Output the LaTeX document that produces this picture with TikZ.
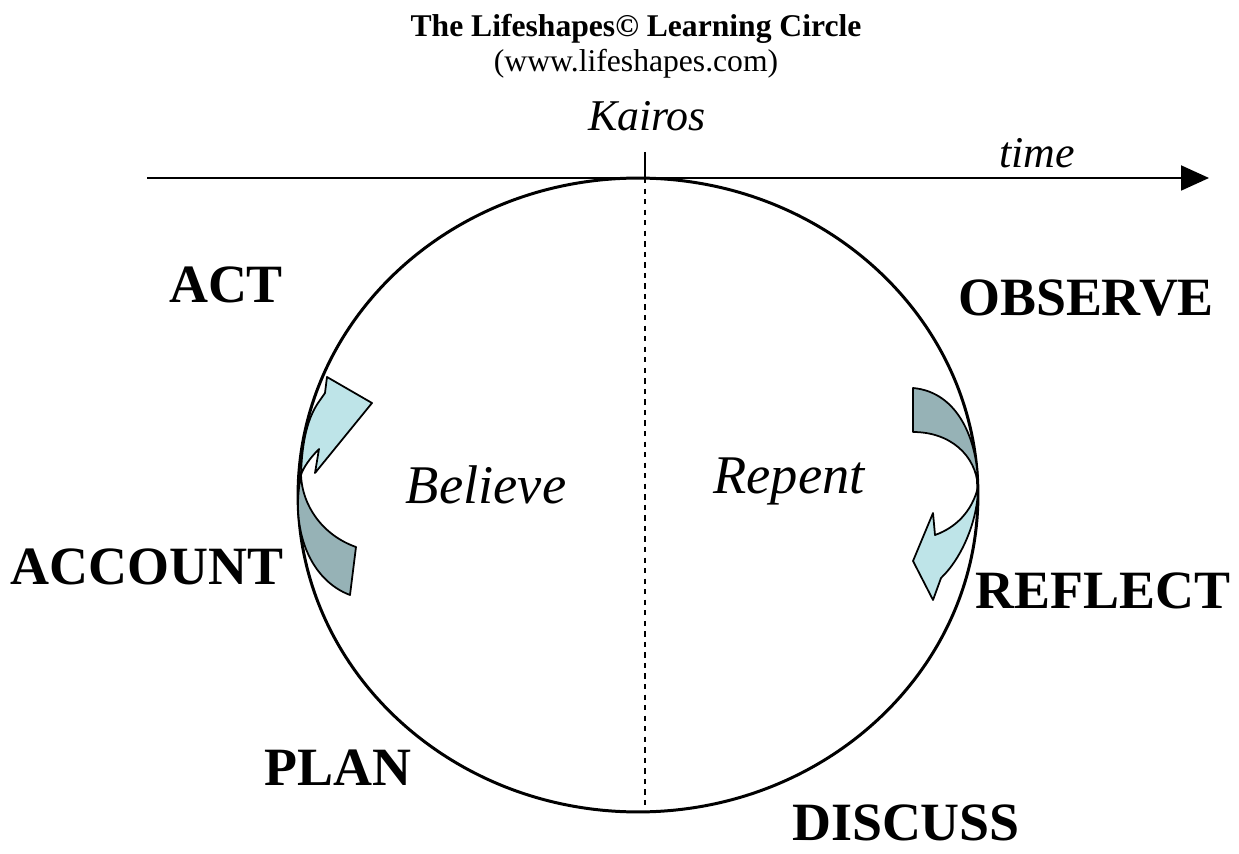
\documentclass[tikz,border=0pt]{standalone}
\usepackage{fontspec}
\setmainfont{Liberation Serif}
\usetikzlibrary{arrows.meta}
\definecolor{paleblue}{RGB}{190,228,232}
\definecolor{greyblue}{RGB}{150,178,182}

\begin{document}
\begin{tikzpicture}[x=0.02cm, y=-0.02cm,
  stage/.style={font=\fontsize{30.7}{32}\selectfont\bfseries, anchor=base, inner sep=0pt},
  word/.style={font=\fontsize{31}{32}\selectfont\itshape, anchor=base, inner sep=0pt},
  axislabel/.style={font=\fontsize{25}{26}\selectfont\itshape, anchor=base, inner sep=0pt},
  piece/.style={draw=black, line width=1pt, line join=round}]
\useasboundingbox (0,0) rectangle (1239,854);

\node (title) [anchor=base, inner sep=0pt, font=\fontsize{18}{20}\selectfont\bfseries] at (636,37) {The Lifeshapes© Learning Circle};
\node (web) [anchor=base, inner sep=0pt, font=\fontsize{18}{20}\selectfont] at (636,72) {(www.lifeshapes.com)};
\node (kairos) [axislabel] at (647,131) {Kairos};
\node (time) [axislabel] at (1037,168) {time};

\node (act) [stage] at (226,303) {ACT};
\node (observe) [stage] at (1086,316) {OBSERVE};
\node (account) [stage] at (147,584) {ACCOUNT};
\node (reflect) [stage] at (1103,608) {REFLECT};
\node (plan) [stage] at (338,785) {PLAN};
\node (discuss) [stage, text depth=0pt] at (906,840) {DISCUSS};
\node (believe) [word] at (486,503) {Believe};
\node (repent) [word] at (789,493) {Repent};

\coordinate (start) at (147,178);
\coordinate (end) at (1209,178);
\coordinate (top) at (645,178);
\coordinate (tick) at (645,152);
\coordinate (bottom) at (645,812);

% the circle
\draw[line width=1.7pt] (638,495) ellipse [x radius=6.8cm, y radius=6.34cm];
\draw[dashed, line width=0.6pt] (top) -- (bottom);
\draw[line width=0.7pt] (tick) -- (top);
\draw[line width=1.1pt, -{Triangle[length=0.56cm,width=0.5cm]}] (start) -- (end);

% left arrow
\draw[piece, fill=greyblue] (301,475) .. controls (290,530) and (310,580) .. (350,595) -- (356,547) .. controls (322,535) and (302,505) .. (301,475) -- cycle;
\draw[piece, fill=paleblue] (301,475) .. controls (302,440) and (308,418) .. (318,403) -- (325,393) -- (327,377) -- (372,403) -- (315,473) -- (319,449) .. controls (310,458) and (303,468) .. (301,475) -- cycle;

% right arrow
\draw[piece, fill=greyblue] (913,388) .. controls (958,392) and (978,440) .. (978,487) .. controls (976,455) and (950,432) .. (913,432) -- cycle;
\draw[piece, fill=paleblue] (978,487) .. controls (978,520) and (962,558) .. (941,578) -- (933,600) -- (913,561) -- (933,513) -- (935,535) .. controls (955,528) and (972,512) .. (978,487) -- cycle;
\end{tikzpicture}
\end{document}
